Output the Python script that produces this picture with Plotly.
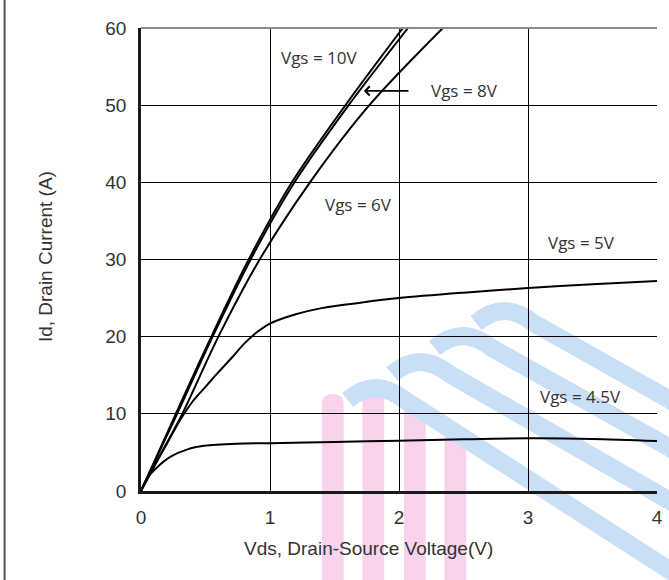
import plotly.graph_objects as go

# Output characteristics: drain current vs drain-source voltage for several gate voltages
vds_10v = [0, 0.135, 0.27, 0.545, 0.835, 1.17, 1.585, 2.03]
id_10v = [0, 5, 10, 20, 30, 40, 50, 60]

vds_8v = [0, 0.14, 0.28, 0.555, 0.85, 1.19, 1.61, 2.07]
id_8v = [0, 5, 10, 20, 30, 40, 50, 60]

vds_6v = [0, 0.16, 0.32, 0.6, 0.92, 1.31, 1.77, 2.34]
id_6v = [0, 5, 10, 20, 30, 40, 50, 60]

vds_5v = [0, 0.1, 0.2, 0.3, 0.4, 0.5, 0.6, 0.7, 0.8, 0.9, 1.0, 1.2, 1.4, 1.7, 2.0, 2.5, 3.0, 3.5, 4.0]
id_5v = [0, 3.2, 6.1, 9.1, 11.6, 13.5, 15.4, 17.2, 19.1, 20.6, 21.7, 22.9, 23.7, 24.4, 25.0, 25.7, 26.3, 26.8, 27.2]

vds_45v = [0, 0.05, 0.13, 0.23, 0.36, 0.49, 0.74, 1.0, 1.5, 2.0, 2.5, 3.0, 3.5, 4.0]
id_45v = [0, 1.7, 3.15, 4.45, 5.4, 5.85, 6.13, 6.2, 6.35, 6.52, 6.7, 6.82, 6.75, 6.48]

x_ticks = [0, 1, 2, 3, 4]
y_ticks = [0, 10, 20, 30, 40, 50, 60]

# Curve labels: (text, x, y)
curve_labels = [
    ("Vgs = 10V", 1.378, 56.2),
    ("Vgs = 8V", 2.51, 51.9),
    ("Vgs = 6V", 1.685, 37.1),
    ("Vgs = 5V", 3.416, 32.2),
    ("Vgs = 4.5V", 3.41, 12.2),
]

W, H = 669, 580
L, R, T, B = 141, 6, 28, 89
PW, PH = W - L - R, H - T - B

fig = go.Figure()
for xs, ys in [(vds_10v, id_10v), (vds_8v, id_8v), (vds_6v, id_6v), (vds_5v, id_5v), (vds_45v, id_45v)]:
    fig.add_trace(go.Scatter(
        x=xs, y=ys, mode="lines",
        line=dict(color="black", width=2, shape="spline", smoothing=0.9),
        hoverinfo="skip", showlegend=False,
    ))


def px(x, y):
    # pixel position -> paper fraction
    return (x - L) / PW, (H - B - y) / PH


def path(cmds):
    out = []
    for c in cmds:
        if isinstance(c, str):
            out.append(c)
        else:
            a, b = px(*c)
            out.append(f"{a:.4f},{b:.4f}")
    return " ".join(out)


shapes = []
pink = "rgb(249,210,237)"
blue = "rgb(200,223,246)"
# background logo: vertical pink bars with rounded tops
for cx, top in [(335, 394), (376, 386), (418, 402), (459, 426)]:
    x0, x1 = cx - 11, cx + 11
    shapes.append(dict(type="path", xref="paper", yref="paper", layer="below",
                       path=path(["M", (x0, 585), "L", (x0, top + 10), "Q", (x0, top), (cx, top),
                                  "Q", (x1, top), (x1, top + 10), "L", (x1, 585), "Z"]),
                       fillcolor=pink, line=dict(width=0)))
# background logo: diagonal blue bands (peak, right-edge end)
for pkx, pky, ey in [(510, 311, 396), (468, 336, 444), (425, 362, 497), (380, 388, 566)]:
    slope = (ey - (pky + 12)) / (669 - (pkx + 28))
    shapes.append(dict(type="path", xref="paper", yref="paper", layer="below",
                       path=path(["M", (pkx - 30, pky + 12), "Q", (pkx - 14, pky - 1), (pkx, pky),
                                  "Q", (pkx + 14, pky + 1), (pkx + 28, pky + 12),
                                  "L", (700, ey + slope * 31)]),
                       line=dict(color=blue, width=18)))

# frame: grey top edge, left page rule
shapes.append(dict(type="line", xref="paper", yref="paper", x0=0, x1=1, y0=1, y1=1,
                   line=dict(color="#8c8c8c", width=2), layer="above"))
shapes.append(dict(type="line", xref="paper", yref="paper",
                   x0=px(3, 0)[0], x1=px(3, 0)[0], y0=px(0, -5)[1], y1=px(0, 585)[1],
                   line=dict(color="#555555", width=2), layer="above"))

annotations = []
for text, x, y in curve_labels:
    annotations.append(dict(x=x, y=y, xref="x", yref="y", text=text, showarrow=False,
                            xanchor="center", yanchor="middle",
                            font=dict(family="Open Sans", size=17, color="#333333")))
annotations.append(dict(x=1.727, y=51.85, ax=2.085, ay=51.85, xref="x", yref="y",
                        axref="x", ayref="y", text="", showarrow=True,
                        arrowhead=4, arrowsize=1.1, arrowwidth=1.6, arrowcolor="black"))
annotations.append(dict(x=px(371, 0)[0], y=px(0, 548)[1], xref="paper", yref="paper",
                        xanchor="center", yanchor="middle",
                        text="Vds, Drain-Source Voltage(V)", showarrow=False,
                        font=dict(family="Arial", size=19, color="#333333")))
annotations.append(dict(x=px(44, 0)[0], y=px(0, 257)[1], xref="paper", yref="paper",
                        xanchor="center", yanchor="middle",
                        text="Id, Drain Current (A)", showarrow=False, textangle=-90,
                        font=dict(family="Arial", size=19, color="#333333")))

axis_common = dict(
    showgrid=True, gridcolor="black", gridwidth=1.3,
    showline=True, linecolor="#1a1a1a", linewidth=2.5,
    zeroline=False, ticks="outside", tickcolor="rgba(0,0,0,0)",
    tickfont=dict(family="Arial", size=19, color="#333333"),
    fixedrange=True,
)

fig.update_layout(
    width=W, height=H, autosize=False,
    margin=dict(l=L, r=R, t=T, b=B),
    paper_bgcolor="white", plot_bgcolor="rgba(0,0,0,0)",
    xaxis=dict(range=[0, 4], tickvals=x_ticks, ticklen=7, **axis_common),
    yaxis=dict(range=[0, 60], tickvals=y_ticks, ticklen=8, **axis_common),
    shapes=shapes, annotations=annotations,
)

fig.write_html("out.html")
